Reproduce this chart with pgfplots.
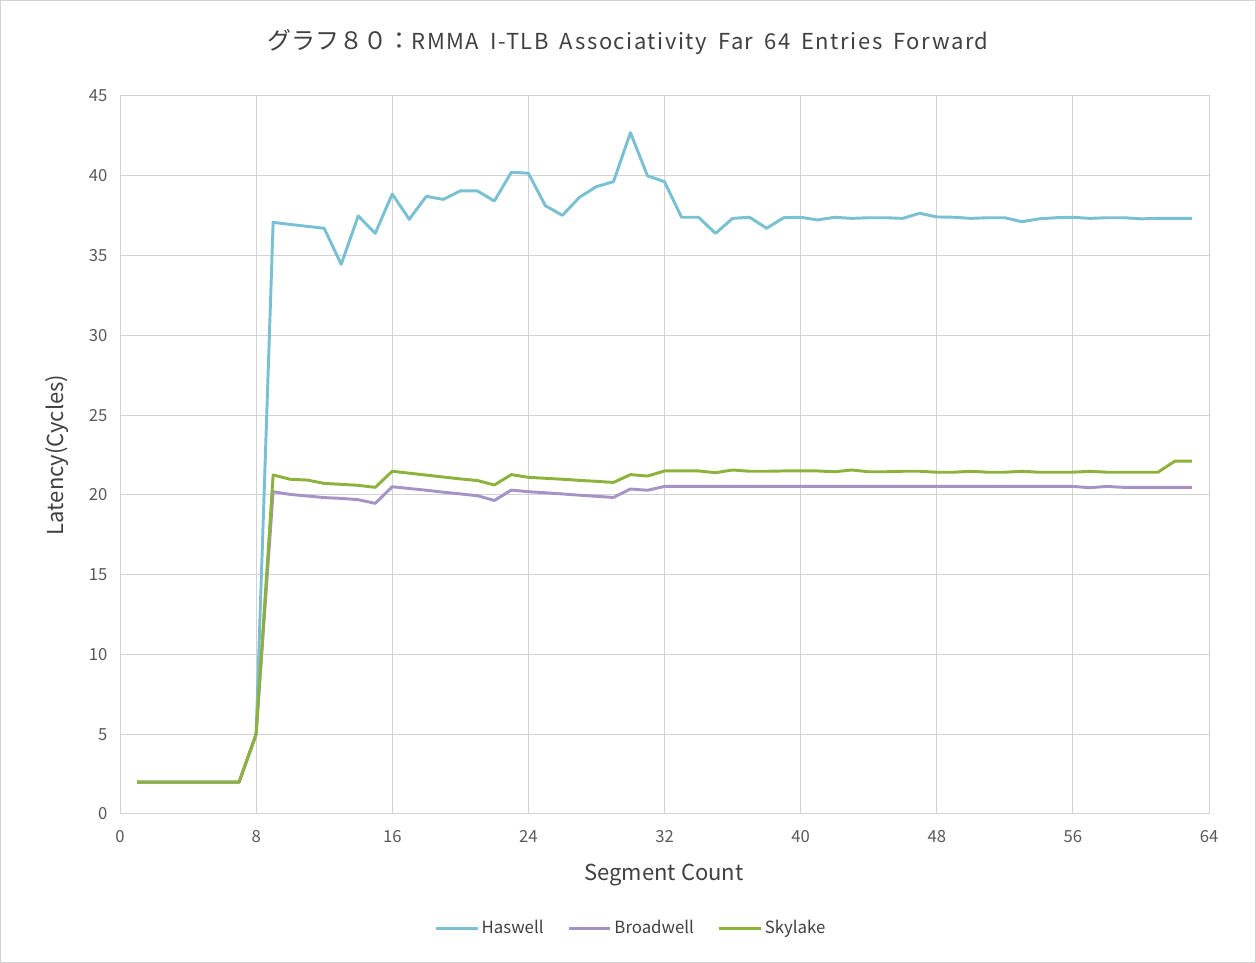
\documentclass[border=0pt]{standalone}
\usepackage{pgfplots}
\pgfplotsset{compat=1.18}
\usepackage{pgfplotstable}
\usepackage{fontspec}
\setmainfont{Noto Sans CJK JP}
\newfontfamily\ttlfont[LetterSpace=7,WordSpace=1.7]{Noto Sans CJK JP}
\definecolor{hasw}{RGB}{120,192,210}
\definecolor{brdw}{RGB}{166,147,198}
\definecolor{skyl}{RGB}{140,178,60}
\definecolor{gridc}{RGB}{210,210,210}
\definecolor{txtc}{RGB}{89,89,89}
\definecolor{ttlc}{RGB}{64,64,64}

\pgfplotstableread{
x y
1 2
2 2
3 2
4 2
5 2
6 2
7 2
8 5
9 37.08
10 36.95
11 36.83
12 36.71
13 34.45
14 37.48
15 36.39
16 38.86
17 37.27
18 38.71
19 38.52
20 39.05
21 39.05
22 38.42
23 40.22
24 40.16
25 38.12
26 37.52
27 38.65
28 39.32
29 39.63
30 42.70
31 40.00
32 39.63
33 37.40
34 37.40
35 36.39
36 37.33
37 37.40
38 36.71
39 37.37
40 37.40
41 37.23
42 37.40
43 37.33
44 37.37
45 37.37
46 37.33
47 37.65
48 37.42
49 37.40
50 37.33
51 37.37
52 37.37
53 37.12
54 37.30
55 37.37
56 37.40
57 37.33
58 37.37
59 37.37
60 37.30
61 37.33
62 37.33
63 37.33
}\haswell

\pgfplotstableread{
x y
1 2
2 2
3 2
4 2
5 2
6 2
7 2
8 5
9 20.20
10 20.03
11 19.93
12 19.83
13 19.78
14 19.70
15 19.47
16 20.51
17 20.40
18 20.29
19 20.17
20 20.06
21 19.95
22 19.65
23 20.30
24 20.20
25 20.13
26 20.06
27 19.98
28 19.91
29 19.84
30 20.37
31 20.29
32 20.53
33 20.53
34 20.53
35 20.53
36 20.53
37 20.53
38 20.53
39 20.53
40 20.53
41 20.53
42 20.53
43 20.53
44 20.53
45 20.53
46 20.53
47 20.53
48 20.53
49 20.53
50 20.53
51 20.53
52 20.53
53 20.53
54 20.53
55 20.53
56 20.53
57 20.45
58 20.53
59 20.47
60 20.47
61 20.47
62 20.47
63 20.47
}\broadwell

\pgfplotstableread{
x y
1 2
2 2
3 2
4 2
5 2
6 2
7 2
8 5
9 21.25
10 20.98
11 20.93
12 20.72
13 20.66
14 20.60
15 20.47
16 21.48
17 21.36
18 21.24
19 21.12
20 21.00
21 20.90
22 20.62
23 21.27
24 21.10
25 21.04
26 20.98
27 20.91
28 20.85
29 20.78
30 21.27
31 21.18
32 21.50
33 21.50
34 21.50
35 21.39
36 21.56
37 21.48
38 21.48
39 21.50
40 21.50
41 21.50
42 21.45
43 21.56
44 21.45
45 21.45
46 21.48
47 21.48
48 21.42
49 21.42
50 21.48
51 21.42
52 21.42
53 21.48
54 21.42
55 21.42
56 21.42
57 21.48
58 21.42
59 21.42
60 21.42
61 21.42
62 22.12
63 22.12
}\skylake

\begin{document}
\begin{tikzpicture}
\path[use as bounding box] (0,0) rectangle (942pt,722.25pt);
\draw[color=gridc, line width=0.75pt] (0.4pt,0.4pt) rectangle (941.6pt,721.85pt);
\begin{axis}[
  at={(90pt,111.75pt)}, anchor=south west,
  scale only axis, width=816.75pt, height=538.5pt,
  xmin=0, xmax=64, ymin=0, ymax=45,
  xtick={0,8,...,64}, ytick={0,5,...,45},
  grid=major,
  major grid style={color=gridc, line width=0.75pt},
  axis line style={color=gridc, line width=0.75pt},
  major tick length=0pt,
  tick label style={font=\fontsize{12.5}{14}\selectfont, text=txtc},
  /pgf/number format/assume math mode=true,
  xticklabel style={yshift=-9pt},
  yticklabel style={xshift=-6pt},
  title={{\fontsize{18}{20}\selectfont グラフ８０：}{\ttlfont RMMA I-TLB Associativity Far 64 Entries Forward}},
  title style={font=\fontsize{16.5}{19}\selectfont, text=ttlc, at={(rel axis cs:0.4665,1.064)}, anchor=center},
  xlabel={Segment Count},
  xlabel style={font=\fontsize{16.5}{19}\selectfont, text=ttlc, at={(rel axis cs:0.4995,-0.085)}, anchor=center},
  ylabel={Latency(Cycles)},
  ylabel style={font=\fontsize{16.5}{19}\selectfont, text=ttlc, at={(rel axis cs:-0.058,0.5)}, anchor=center, rotate=0},
  legend style={at={(rel axis cs:0.4696,-0.159)}, anchor=center, draw=none, fill=none,
    font=\fontsize{12.6}{14}\selectfont, text=ttlc, legend columns=3,
    /tikz/every even column/.append style={column sep=16pt}},
  legend image code/.code={\draw[#1] (0pt,0pt) -- (31pt,0pt);},
  every axis plot/.append style={line width=2.2pt, line join=round, mark=none},
]
\addplot[hasw] table[x=x,y=y] {\haswell};
\addlegendentry{Haswell}
\addplot[brdw] table[x=x,y=y] {\broadwell};
\addlegendentry{Broadwell}
\addplot[skyl] table[x=x,y=y] {\skylake};
\addlegendentry{Skylake}
\end{axis}
\end{tikzpicture}
\end{document}
